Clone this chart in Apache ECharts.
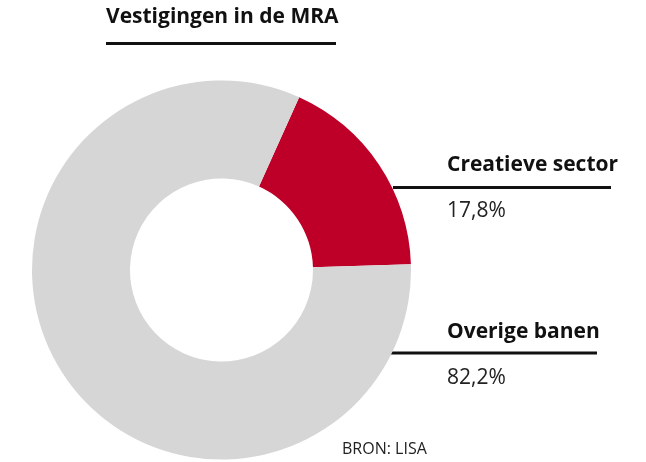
<!DOCTYPE html>
<html>
<head>
<meta charset="utf-8">
<script src="https://cdn.jsdelivr.net/npm/echarts@6/dist/echarts.min.js"></script>
<style>
  html, body { margin: 0; padding: 0; background: #fff; }
  #chart { width: 646px; height: 462px; }
</style>
</head>
<body>
<div id="chart"></div>
<script>
// Share of establishments in the Amsterdam metropolitan region (MRA)
const categories = ['Creatieve sector', 'Overige banen'];
const shares = [17.8, 82.2];
const sliceColors = ['#BE0028', '#D6D6D6'];
const title = 'Vestigingen in de MRA';
const source = 'BRON: LISA';

const FONT = '"Open Sans", sans-serif';

function pct(v) {
  return v.toFixed(1).replace('.', ',') + '%';
}

const chart = echarts.init(document.getElementById('chart'), null, { renderer: 'canvas' });

// Label block for each slice: name, rule, value
const labelBlocks = [
  { y: 165.5, lineX1: 393, lineX2: 611, lineY: 187.5 },
  { y: 332.5, lineX1: 391, lineX2: 597, lineY: 353 }
];

const graphics = [
  {
    type: 'text', left: 106, top: 7,
    style: { text: title, font: '700 21px ' + FONT, fill: '#111' }
  },
  {
    type: 'rect', shape: { x: 106, y: 42, width: 230, height: 3 },
    style: { fill: '#111' }
  },
  {
    type: 'text', left: 342, top: 441,
    style: { text: source, font: '400 16px ' + FONT, fill: '#222' }
  }
];

labelBlocks.forEach((b, i) => {
  graphics.push({
    type: 'text', x: 447, y: b.y,
    style: { text: categories[i], font: '700 21px ' + FONT, fill: '#111', verticalAlign: 'middle' }
  });
  graphics.push({
    type: 'rect', shape: { x: b.lineX1, y: b.lineY - 1.5, width: b.lineX2 - b.lineX1, height: 3 },
    style: { fill: '#111' }
  });
  graphics.push({
    type: 'text', x: 447, y: b.y + 46,
    style: { text: pct(shares[i]), font: '400 21px ' + FONT, fill: '#222', verticalAlign: 'middle' }
  });
});

chart.setOption({
  animation: false,
  backgroundColor: '#fff',
  graphic: graphics,
  series: [{
    type: 'pie',
    center: [221.5, 270],
    radius: [91.5, 189.5],
    startAngle: 65.8,
    clockwise: true,
    silent: true,
    label: { show: false },
    labelLine: { show: false },
    itemStyle: { borderWidth: 0 },
    data: categories.map((c, i) => ({
      name: c,
      value: shares[i],
      itemStyle: { color: sliceColors[i] }
    }))
  }]
});
</script>
</body>
</html>
